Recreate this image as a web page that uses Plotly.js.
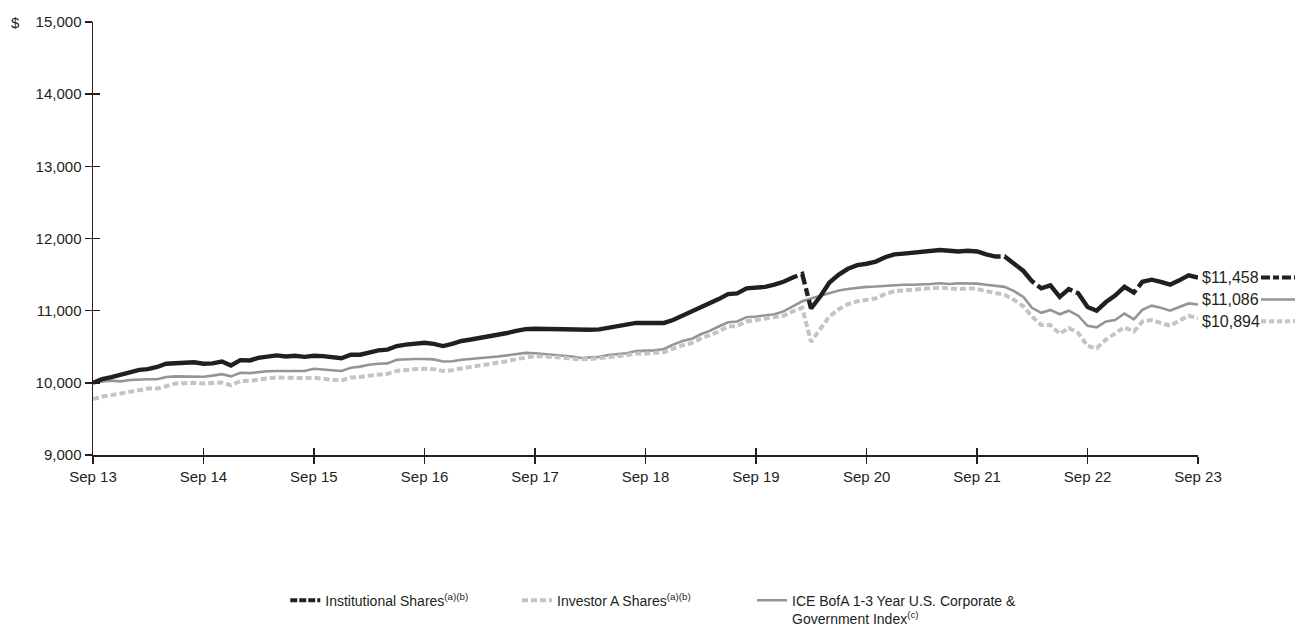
<!DOCTYPE html>
<html>
<head>
<meta charset="utf-8">
<script src="https://cdn.plot.ly/plotly-3.0.1.min.js"></script>
<style>html,body{margin:0;padding:0;background:#fff;}#chart{width:1295px;height:630px;}</style>
</head>
<body>
<div id="chart"></div>
<script>
// Monthly values, Sep 2013 .. Sep 2023 (121 points)
const startYear = 2013, startMonth = 9;

const institutional = [
  10000,10050,10080,10110,10150,10180,10190,10220,10265,10275,10275,10285,
  10265,10270,10295,10240,10315,10310,10345,10360,10380,10365,10375,10360,
  10375,10370,10350,10340,10390,10390,10420,10450,10460,10510,10530,10540,
  10555,10540,10510,10540,10580,10600,10620,10640,10660,10690,10720,10745,
  10750,10745,10745,10740,10735,10730,10735,10740,10760,10780,10800,10830,
  10830,10830,10830,10870,10930,10980,11050,11110,11160,11230,11240,11310,
  11320,11330,11360,11400,11460,11510,11030,11200,11390,11500,11580,11630,
  11650,11680,11740,11780,11790,11800,11810,11830,11840,11830,11820,11830,
  11820,11780,11750,11750,11650,11550,11410,11310,11350,11190,11300,11240,
  11050,11000,11120,11210,11330,11250,11400,11430,11400,11360,11420,11490,
  11458
];

const investorA = [
  9775,9810,9830,9850,9880,9900,9920,9920,9960,9990,9995,10000,
  9990,10000,10005,9965,10025,10030,10050,10060,10075,10070,10070,10065,
  10070,10060,10045,10030,10075,10080,10100,10115,10125,10165,10180,10190,
  10195,10190,10165,10175,10200,10220,10235,10255,10280,10300,10330,10355,
  10370,10365,10360,10350,10335,10325,10330,10340,10360,10370,10385,10405,
  10405,10410,10425,10475,10520,10550,10610,10660,10710,10780,10790,10850,
  10870,10880,10900,10930,10990,11040,10570,10760,10920,11020,11090,11130,
  11150,11170,11230,11270,11280,11290,11300,11310,11320,11310,11300,11310,
  11300,11270,11240,11220,11150,11060,10920,10800,10800,10680,10760,10690,
  10510,10480,10600,10680,10770,10710,10850,10870,10830,10790,10860,10930,
  10894
];

const indexSeries = [
  10000,10020,10030,10020,10040,10050,10050,10050,10080,10090,10085,10090,
  10085,10100,10120,10090,10140,10135,10150,10160,10165,10165,10170,10165,
  10195,10190,10175,10165,10210,10225,10250,10265,10270,10320,10330,10330,
  10330,10325,10295,10300,10320,10330,10340,10355,10365,10380,10400,10415,
  10410,10400,10395,10385,10365,10345,10350,10360,10385,10395,10410,10440,
  10440,10450,10470,10530,10580,10610,10670,10720,10780,10840,10850,10910,
  10920,10930,10950,10990,11060,11130,11170,11210,11250,11280,11300,11320,
  11330,11335,11345,11355,11360,11360,11360,11370,11380,11370,11380,11380,
  11375,11360,11345,11330,11270,11190,11040,10970,11010,10950,11000,10930,
  10790,10770,10850,10870,10960,10880,11010,11070,11040,11000,11050,11100,
  11086
];

const seriesNames = [
  'Institutional Shares<sup>(a)(b)</sup>',
  'Investor A Shares<sup>(a)(b)</sup>',
  'ICE BofA 1-3 Year U.S. Corporate &amp;<br>Government Index<sup>(c)</sup>'
];
const endLabels = ['$11,458', '$10,894', '$11,086'];
const yTickVals = [9000, 10000, 11000, 12000, 13000, 14000, 15000];
const yTickText = ['9,000', '10,000', '11,000', '12,000', '13,000', '14,000', '15,000'];
const xTickVals = ['2013-09-01','2014-09-01','2015-09-01','2016-09-01','2017-09-01','2018-09-01',
                   '2019-09-01','2020-09-01','2021-09-01','2022-09-01','2023-09-01'];
const xTickText = ['Sep 13','Sep 14','Sep 15','Sep 16','Sep 17','Sep 18','Sep 19','Sep 20','Sep 21','Sep 22','Sep 23'];

const dates = [];
for (let i = 0; i < institutional.length; i++) {
  const m0 = startMonth - 1 + i;
  const y = startYear + Math.floor(m0 / 12);
  const m = (m0 % 12) + 1;
  dates.push(y + '-' + String(m).padStart(2, '0') + '-01');
}

const colInst = '#231f20', colInv = '#c3c4c6', colIdx = '#939598';
const dashInst = '725px,4px,12px,4px,8px,4px,220px,4px,40px,4px,45px,4px,80px,4px,300px';
const dashInv = '6px,3px';
const fontMain = 'Liberation Sans, Arial, sans-serif';
const fontLegend = 'Liberation Sans, Arial, sans-serif';

const traces = [
  {x: dates, y: indexSeries, name: seriesNames[2], type: 'scatter', mode: 'lines',
   line: {color: colIdx, width: 2.6}, legend: 'legend3'},
  {x: dates, y: investorA, name: seriesNames[1], type: 'scatter', mode: 'lines',
   line: {color: colInv, width: 4, dash: dashInv}, legend: 'legend2'},
  {x: dates, y: institutional, name: seriesNames[0], type: 'scatter', mode: 'lines',
   line: {color: colInst, width: 0.001, dash: '7px,2px'}, legend: 'legend'},
  {x: dates, y: institutional, name: seriesNames[0], type: 'scatter', mode: 'lines',
   line: {color: colInst, width: 4.4, dash: dashInst}, showlegend: false}
];

const last = dates.length - 1;
const ends = [
  {v: institutional[last], t: endLabels[0], shift: 0, color: colInst, dash: '9px,3px,6px,3px', w: 4},
  {v: indexSeries[last], t: endLabels[2], shift: 5, color: colIdx, dash: 'solid', w: 2.6},
  {v: investorA[last], t: endLabels[1], shift: -3, color: colInv, dash: '5px,3px', w: 4}
];
const annotations = ends.map(e => ({
  x: dates[last], y: e.v, xref: 'x', yref: 'y', text: e.t, showarrow: false,
  xanchor: 'left', yanchor: 'middle', xshift: 2, yshift: e.shift,
  font: {family: fontMain, size: 16, color: '#231f20'}
}));
annotations.push({
  xref: 'paper', yref: 'y', x: -0.064, y: 15000, text: '$', showarrow: false,
  xanchor: 'right', yanchor: 'middle', font: {family: fontMain, size: 15, color: '#231f20'}
});

const legendBase = {
  orientation: 'h', yref: 'container', y: 0.072, xanchor: 'left', yanchor: 'top',
  font: {family: fontLegend, size: 14, color: '#231f20'},
  itemwidth: 30, valign: 'top', bgcolor: 'rgba(0,0,0,0)'
};

const layout = {
  width: 1295, height: 630,
  margin: {l: 93, r: 97, t: 22, b: 175},
  paper_bgcolor: '#ffffff', plot_bgcolor: '#ffffff',
  font: {family: fontMain, size: 15, color: '#231f20'},
  showlegend: true,
  legend: Object.assign({}, legendBase, {x: 0.174}),
  legend2: Object.assign({}, legendBase, {x: 0.3837}),
  legend3: Object.assign({}, legendBase, {x: 0.5964}),
  xaxis: {
    type: 'date', range: [dates[0], dates[last]], automargin: false,
    tickmode: 'array', tickvals: xTickVals, ticktext: xTickText,
    showgrid: false, zeroline: false, showline: true, linecolor: '#231f20', linewidth: 1.5,
    ticks: 'outside', ticklen: 7, tickwidth: 1.5, tickcolor: '#231f20',
    tickfont: {family: fontMain, size: 15, color: '#231f20'}
  },
  xaxis2: {
    type: 'date', range: [dates[0], dates[last]], overlaying: 'x', side: 'bottom', anchor: 'y',
    tickmode: 'array', tickvals: xTickVals, showticklabels: false,
    showgrid: false, zeroline: false, showline: false,
    ticks: 'inside', ticklen: 7, tickwidth: 1.5, tickcolor: '#231f20'
  },
  yaxis: {
    range: [9000, 15000], automargin: false, tickmode: 'array', tickvals: yTickVals, ticktext: yTickText,
    showgrid: false, zeroline: false, showline: true, linecolor: '#231f20', linewidth: 1.5,
    ticks: 'outside', ticklen: 7, tickwidth: 1.5, tickcolor: '#231f20',
    tickfont: {family: fontMain, size: 15, color: '#231f20'}
  },
  yaxis2: {
    range: [9000, 15000], overlaying: 'y', side: 'left', anchor: 'x',
    tickmode: 'array', tickvals: yTickVals, showticklabels: false,
    showgrid: false, zeroline: false, showline: false,
    ticks: 'inside', ticklen: 7, tickwidth: 1.5, tickcolor: '#231f20'
  },
  annotations: annotations,
  shapes: ends.map(e => ({
    type: 'line', xref: 'paper', yref: 'y', ysizemode: 'pixel', yanchor: e.v,
    x0: 1.057, x1: 1.092, y0: e.shift, y1: e.shift,
    line: {color: e.color, width: e.w, dash: e.dash}
  }))
};

// invisible trace to register overlay axes
traces.push({x: [dates[0]], y: [9000], xaxis: 'x2', yaxis: 'y2', mode: 'markers',
  marker: {opacity: 0}, showlegend: false, hoverinfo: 'skip'});

Plotly.newPlot('chart', traces, layout, {displayModeBar: false, staticPlot: true}).then(gd => {
  // institutional legend sample drawn at full width (carrier trace is a hairline)
  gd.querySelectorAll('.legend .traces').forEach(t => {
    const txt = t.querySelector('.legendtext');
    if (txt && txt.textContent.indexOf('Institutional') === 0) {
      const p = t.querySelector('.js-line');
      if (p) p.style.strokeWidth = '4.2px';
    }
  });
});
</script>
</body>
</html>
